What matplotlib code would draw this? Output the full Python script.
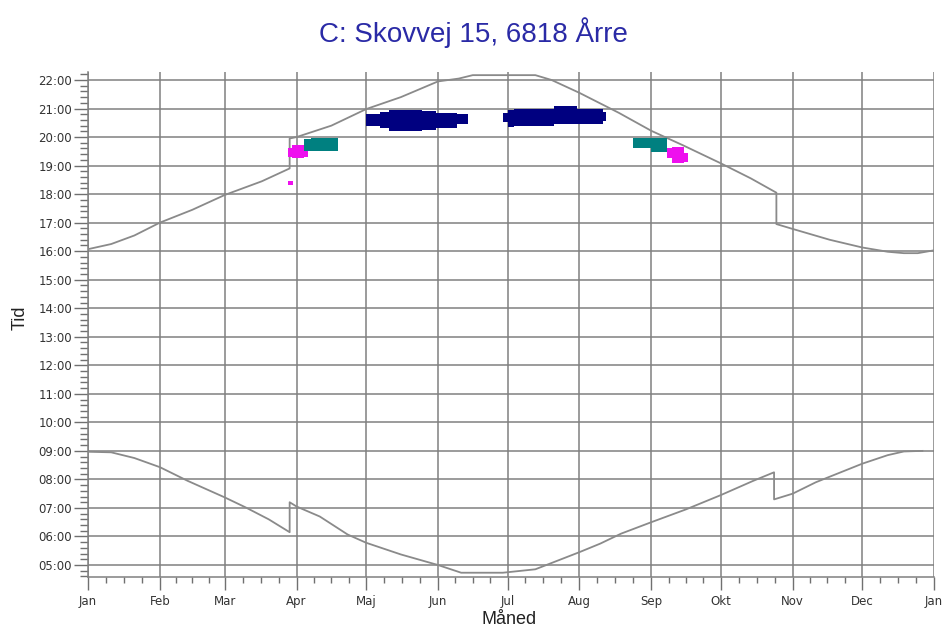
import numpy as np
import matplotlib.pyplot as plt
from matplotlib.ticker import FixedLocator, MultipleLocator, FuncFormatter

# month starts (day of year) and Danish month names
month_start = [0, 31, 59, 90, 120, 151, 181, 212, 243, 273, 304, 334, 365]
month_names = ["Jan", "Feb", "Mar", "Apr", "Maj", "Jun", "Jul", "Aug",
               "Sep", "Okt", "Nov", "Dec", "Jan"]

# sunset (top curve), hours
sunset_day = [0, 10, 20, 31, 45, 59, 75, 87, 87, 90, 105, 120, 135, 151, 160,
              166, 193, 200, 212, 229, 243, 257, 273, 286, 297, 297, 304, 320,
              334, 345, 352, 358, 365]
sunset_time = [16.07, 16.25, 16.55, 17.00, 17.45, 17.97, 18.45, 18.90, 19.95,
               20.00, 20.40, 20.98, 21.40, 21.95, 22.05, 22.17, 22.17, 22.00,
               21.55, 20.85, 20.22, 19.70, 19.08, 18.55, 18.05, 16.95, 16.78,
               16.40, 16.13, 15.98, 15.93, 15.93, 16.03]

# sunrise (bottom curve), hours
sunrise_day = [0, 10, 20, 31, 43, 59, 68, 78, 87, 87, 90, 100, 112, 120, 135,
               151, 161, 179, 193, 212, 221, 230, 243, 258, 273, 287, 296, 296,
               304, 314, 334, 345, 352, 360]
sunrise_time = [8.97, 8.95, 8.75, 8.43, 7.95, 7.37, 7.02, 6.60, 6.15, 7.20,
                7.05, 6.70, 6.07, 5.78, 5.37, 5.00, 4.73, 4.73, 4.85, 5.45,
                5.75, 6.10, 6.50, 6.95, 7.45, 7.95, 8.25, 7.30, 7.50, 7.90,
                8.55, 8.85, 8.98, 9.00]

# shadow periods: start day, end day, low time, high time
navy_start = [120, 126, 130, 144, 150, 159, 179, 181, 184, 201, 211, 222]
navy_end = [127, 130, 144, 150, 159, 164, 181, 184, 201, 211, 222, 223.5]
navy_low = [20.40, 20.30, 20.22, 20.25, 20.33, 20.45, 20.52, 20.35, 20.40,
            20.44, 20.47, 20.57]
navy_high = [20.80, 20.88, 20.96, 20.90, 20.85, 20.80, 20.84, 20.96, 21.00,
             21.10, 21.00, 20.89]

teal_start = [93, 96, 235, 243]
teal_end = [96, 108, 243, 250]
teal_low = [19.52, 19.52, 19.62, 19.48]
teal_high = [19.92, 19.97, 19.97, 19.95]

magenta_start = [86.5, 86.5, 88, 93, 250, 252, 257]
magenta_end = [88.5, 88, 93, 95, 252, 257, 259]
magenta_low = [18.33, 19.30, 19.26, 19.30, 19.25, 19.08, 19.12]
magenta_high = [18.47, 19.62, 19.72, 19.55, 19.60, 19.65, 19.45]

grid_col = "#808080"
plt.rcParams["font.family"] = ["DejaVu Sans"]

fig = plt.figure(figsize=(9.47, 6.32), dpi=100)
ax = fig.add_axes([88 / 947, 55 / 632, 846 / 947, 505 / 632])

ax.plot(sunset_day, sunset_time, color="#8a8a8a", lw=1.3, zorder=3)
ax.plot(sunrise_day, sunrise_time, color="#8a8a8a", lw=1.3, zorder=3)


def blocks(s, e, lo, hi, col):
    s = np.array(s); e = np.array(e); lo = np.array(lo); hi = np.array(hi)
    ax.bar(s, hi - lo, width=e - s, bottom=lo, align="edge", color=col,
           linewidth=0, zorder=4)


blocks(magenta_start, magenta_end, magenta_low, magenta_high, "#ee10ee")
blocks(teal_start, teal_end, teal_low, teal_high, "#008080")
blocks(navy_start, navy_end, navy_low, navy_high, "#000080")

ax.set_xlim(0, 365)
ax.set_ylim(4.58, 22.28)

ax.xaxis.set_major_locator(FixedLocator(month_start))
ax.set_xticklabels(month_names)
minor = []
for a, b in zip(month_start[:-1], month_start[1:]):
    minor += [a + (b - a) * k / 4 for k in (1, 2, 3)]
ax.xaxis.set_minor_locator(FixedLocator(minor))

ax.yaxis.set_major_locator(MultipleLocator(1))
ax.yaxis.set_minor_locator(MultipleLocator(0.2))
ax.yaxis.set_major_formatter(FuncFormatter(lambda v, p: "%02d:00" % int(round(v))))

ax.grid(True, which="major", color=grid_col, lw=1.1, zorder=1)
ax.set_axisbelow(True)
for s in ("top", "right"):
    ax.spines[s].set_visible(False)
for s in ("left", "bottom"):
    ax.spines[s].set_color(grid_col)
    ax.spines[s].set_linewidth(1.1)

ax.tick_params(axis="y", which="major", length=10, width=1, color="#707070",
               labelsize=8.5, labelcolor="#333333", pad=1.5)
ax.tick_params(axis="y", which="minor", length=5.5, width=1, color="#707070")
ax.tick_params(axis="x", which="major", length=9, width=1, color="#707070",
               labelsize=8.5, labelcolor="#333333", pad=4)
ax.tick_params(axis="x", which="minor", length=4, width=1, color="#707070")

fig.text(20 / 947, 1 - 318 / 632, "Tid", rotation=90, ha="center",
         va="center", fontsize=13, family="Liberation Sans", color="#222222")
fig.text(509 / 947, 1 - 620 / 632, "Måned", ha="center", va="center",
         fontsize=13, family="Liberation Sans", color="#222222")

fig.text(0.5, 1 - 33 / 632, "C: Skovvej 15, 6818 Årre", ha="center",
         va="center", fontsize=20, family="Liberation Sans", color="#2a2aa6")

fig.savefig("out.png", dpi=100, facecolor="white")
